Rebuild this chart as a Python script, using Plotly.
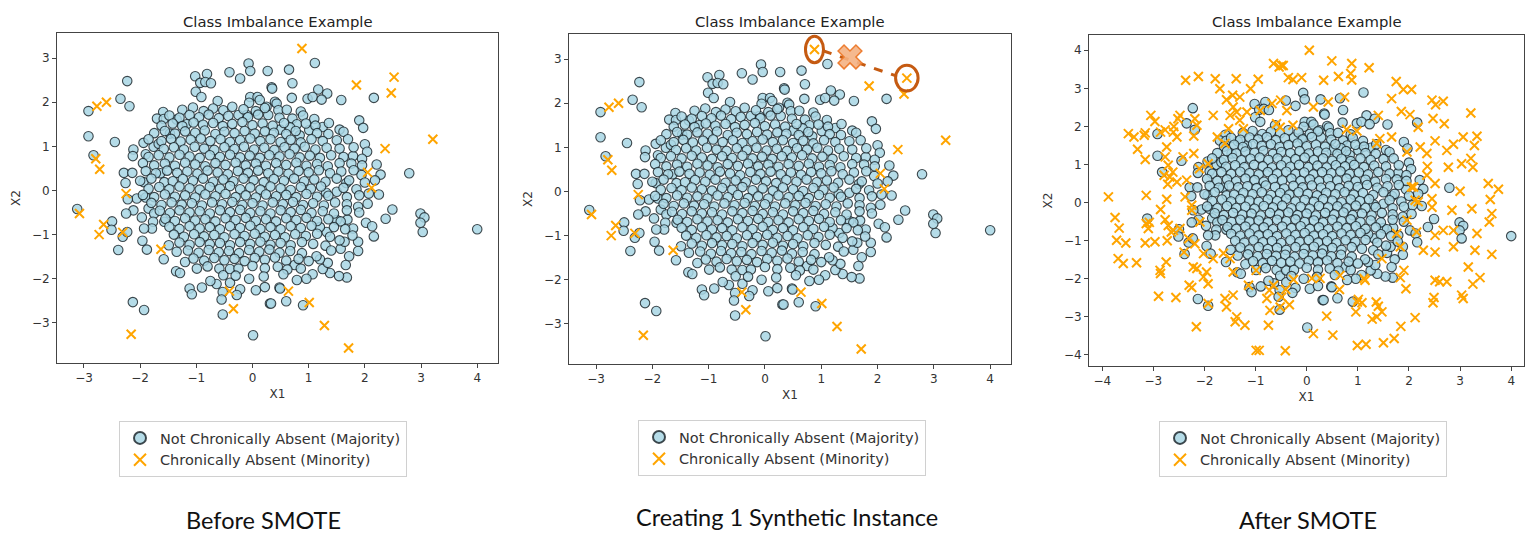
import plotly.graph_objects as go

# ---------------- data ----------------
majority_xy = [
    (-2.23,2.48),(-2.92,1.80),(-2.35,2.08),(-2.19,1.91),(-2.92,1.23),(-2.83,0.80),(-2.45,1.10),(-2.12,0.93),
    (-2.13,0.78),(-1.94,1.08),(-1.90,0.82),(-2.29,0.40),(-2.14,0.40),(-2.26,0.17),(-1.94,0.19),(-1.64,0.39),
    (-1.57,0.19),(-1.76,0.99),(-1.67,1.06),(-1.59,1.78),(-1.70,1.63),(-1.58,1.62),(-1.35,1.61),(-1.17,1.50),
    (-1.47,1.29),(-1.02,2.59),(-0.81,2.64),(-0.93,2.44),(-0.84,2.46),(-0.74,2.43),(-1.01,2.24),(-0.91,2.12),
    (-0.62,2.03),(-0.41,2.68),(-0.22,2.54),(-0.07,2.88),(-0.04,2.71),(0.27,2.71),(0.34,2.34),(-0.04,2.12),
    (0.09,2.12),(0.13,2.05),(-0.06,1.99),(0.25,1.90),(0.40,2.01),(0.28,1.71),(-0.10,1.71),(-0.25,1.71),
    (0.65,2.74),(1.11,2.89),(0.71,2.43),(0.35,2.31),(1.17,2.29),(1.33,2.20),(0.98,2.08),(1.07,2.12),
    (1.23,2.06),(0.70,2.10),(1.58,2.05),(2.16,2.10),(0.43,1.97),(0.46,1.82),(0.71,1.63),(0.79,1.50),
    (1.25,1.44),(1.55,1.38),(1.90,1.59),(1.97,1.42),(2.00,1.05),(2.04,0.88),(1.50,1.14),(1.55,0.95),
    (1.79,0.78),(1.76,0.61),(2.21,0.59),(2.28,0.36),(2.79,0.39),(1.94,0.35),(2.18,0.23),(2.25,-0.09),
    (2.07,-0.07),(1.67,0.17),(1.50,-0.03),(1.31,-0.05),(1.01,1.37),(0.84,1.25),(0.67,1.43),(0.49,1.38),
    (-3.12,-0.42),(-2.50,-0.70),(-2.51,-0.89),(-2.31,-1.05),(-2.23,-0.94),(-2.39,-1.35),(-2.12,-0.45),(-2.25,-0.52),
    (-1.97,-0.61),(-1.85,-0.41),(-1.75,-0.52),(-1.77,-0.71),(-1.79,-0.86),(-1.93,-0.86),(-2.06,-0.18),(-2.22,-0.20),
    (-1.90,-0.16),(-1.96,-1.14),(-1.88,-1.34),(-1.58,-1.56),(-1.49,-1.24),(-1.57,-0.71),(-1.35,-1.39),(-1.36,-1.83),
    (-1.29,-1.87),(-1.20,-1.62),(-0.99,-1.77),(-1.12,-2.22),(-1.08,-2.35),(-0.90,-2.20),(-0.64,-2.12),(-0.59,-1.77),
    (-0.52,-1.92),(-0.40,-1.78),(-0.53,-2.30),(-0.55,-2.47),(-0.53,-2.81),(-0.40,-2.09),(-0.22,-2.24),(-0.28,-2.37),
    (-0.06,-2.00),(0.06,-2.26),(0.01,-3.28),(0.22,-2.19),(0.31,-2.56),(0.48,-2.20),(-2.13,-2.53),(-1.93,-2.71),
    (1.88,-0.37),(2.37,-0.64),(2.49,-0.43),(2.99,-0.52),(3.06,-0.61),(2.99,-0.73),(3.03,-0.94),(4.00,-0.88),
    (2.02,-0.73),(2.13,-0.81),(2.16,-1.04),(1.88,-1.16),(1.88,-1.37),(1.72,-1.49),(1.66,-1.69),(1.68,-1.97),
    (1.54,-1.94),(1.38,-1.87),(1.25,-1.78),(1.34,-1.64),(1.20,-1.56),(1.14,-1.49),(1.07,-1.90),(0.96,-2.00),
    (0.79,-2.03),(0.75,-1.69),(0.86,-1.77),(0.49,-2.22),(0.60,-2.51),(0.90,-2.60),(0.33,-2.56),(1.57,-1.32),
    (1.64,-1.16),(1.55,-1.13),(1.79,-0.86),(1.69,-0.66),(1.50,-0.67),(1.32,-0.94),(1.20,-0.83),
    (-1.25,1.83),(-1.06,1.88),(-0.87,1.80),(-0.70,1.86),(-0.52,1.82),(-0.36,1.90),(-0.16,1.84),(0.06,1.80),
    (0.22,1.87),(0.61,1.83),(0.86,1.79),
    (-1.48,1.70),(-1.30,1.65),(-1.12,1.71),(-0.95,1.66),(-0.78,1.72),(-0.60,1.64),(-0.43,1.69),(-0.08,1.66),
    (0.10,1.72),(0.48,1.65),(0.90,1.70),(1.10,1.62),
    (-1.62,1.47),(-1.42,1.52),(-1.25,1.46),(-1.05,1.54),(-0.88,1.49),(-0.70,1.53),(-0.53,1.46),(-0.36,1.51),
    (-0.18,1.55),(0.00,1.48),(0.18,1.52),(0.36,1.47),(0.56,1.53),(0.95,1.52),(1.12,1.47),(1.36,1.53),
    (-1.75,1.30),(-1.56,1.35),(-1.38,1.29),(-1.20,1.34),(-1.02,1.31),(-0.85,1.36),(-0.66,1.28),(-0.50,1.33),
    (-0.32,1.30),(-0.14,1.35),(0.04,1.29),(0.22,1.34),(0.38,1.31),(0.60,1.28),(0.77,1.35),(1.15,1.30),
    (1.35,1.28),(1.62,1.33),
    (-1.85,1.16),(-1.62,1.12),(-1.45,1.17),(-1.28,1.11),(-1.10,1.15),(-0.92,1.18),(-0.75,1.12),(-0.57,1.16),
    (-0.40,1.10),(-0.22,1.14),(-0.04,1.18),(0.14,1.12),(0.32,1.16),(0.50,1.10),(0.68,1.15),(0.86,1.09),
    (1.05,1.16),(1.25,1.12),(1.70,1.16),
    (-1.58,0.94),(-1.40,0.98),(-1.22,0.93),(-1.03,0.99),(-0.86,0.95),(-0.68,0.92),(-0.50,0.98),(-0.32,0.94),
    (-0.15,0.99),(0.03,0.93),(0.21,0.97),(0.39,0.92),(0.57,0.98),(0.75,0.95),(0.93,0.99),(1.12,0.93),
    (1.32,0.97),(1.80,0.98),
    (-1.85,0.76),(-1.67,0.80),(-1.48,0.75),(-1.30,0.81),(-1.12,0.77),(-0.94,0.74),(-0.76,0.80),(-0.58,0.76),
    (-0.40,0.81),(-0.22,0.75),(-0.05,0.79),(0.13,0.74),(0.30,0.80),(0.48,0.77),(0.66,0.82),(0.84,0.75),
    (1.02,0.79),(1.20,0.74),(1.40,0.80),(1.62,0.76),(1.95,0.72),
    (-1.95,0.62),(-1.75,0.57),(-1.56,0.61),(-1.38,0.56),(-1.20,0.63),(-1.02,0.59),(-0.84,0.55),(-0.66,0.62),
    (-0.48,0.58),(-0.30,0.63),(-0.12,0.57),(0.06,0.61),(0.24,0.56),(0.42,0.62),(0.60,0.58),(0.78,0.63),
    (0.96,0.56),(1.15,0.60),(1.34,0.55),(1.55,0.62),(1.95,0.57),
    (-1.90,0.44),(-1.72,0.39),(-1.52,0.45),(-1.34,0.40),(-1.16,0.43),(-0.98,0.38),(-0.80,0.45),(-0.62,0.41),
    (-0.44,0.37),(-0.26,0.44),(-0.08,0.40),(0.10,0.45),(0.28,0.39),(0.46,0.43),(0.64,0.38),(0.82,0.44),
    (1.00,0.41),(1.18,0.46),(1.38,0.39),(1.58,0.43),(1.80,0.46),
    (-2.00,0.22),(-1.80,0.27),(-1.42,0.21),(-1.24,0.26),(-1.06,0.22),(-0.88,0.27),(-0.70,0.20),(-0.52,0.25),
    (-0.34,0.21),(-0.16,0.27),(0.02,0.23),(0.20,0.19),(0.38,0.26),(0.56,0.22),(0.74,0.27),(0.92,0.21),
    (1.10,0.25),(1.30,0.20),(1.50,0.27),(1.72,0.23),(2.00,0.18),
    (-1.85,0.04),(-1.66,0.08),(-1.48,0.03),(-1.30,0.09),(-1.12,0.05),(-0.94,0.02),(-0.76,0.08),(-0.58,0.04),
    (-0.40,0.10),(-0.22,0.03),(-0.04,0.07),(0.14,0.02),(0.32,0.09),(0.50,0.05),(0.68,0.01),(0.86,0.08),
    (1.04,0.04),(1.22,0.09),(1.62,0.06),(1.85,0.03),
    (-1.95,-0.10),(-1.75,-0.15),(-1.56,-0.09),(-1.38,-0.14),(-1.20,-0.11),(-1.02,-0.16),(-0.84,-0.09),(-0.66,-0.13),
    (-0.48,-0.08),(-0.30,-0.15),(-0.12,-0.11),(0.06,-0.16),(0.24,-0.09),(0.42,-0.13),(0.60,-0.10),(0.78,-0.15),
    (0.96,-0.08),(1.15,-0.14),(1.35,-0.12),(1.68,-0.15),(1.90,-0.11),
    (-1.80,-0.28),(-1.62,-0.33),(-1.44,-0.27),(-1.26,-0.32),(-1.08,-0.29),(-0.90,-0.34),(-0.72,-0.27),(-0.54,-0.31),
    (-0.36,-0.26),(-0.18,-0.33),(0.00,-0.29),(0.18,-0.34),(0.36,-0.27),(0.54,-0.31),(0.72,-0.26),(0.90,-0.33),
    (1.08,-0.29),(1.27,-0.34),(1.47,-0.27),(1.68,-0.31),(2.05,-0.30),
    (-1.65,-0.46),(-1.47,-0.51),(-1.30,-0.45),(-1.12,-0.50),(-0.94,-0.47),(-0.76,-0.52),(-0.58,-0.45),(-0.40,-0.49),
    (-0.22,-0.44),(-0.04,-0.51),(0.14,-0.47),(0.32,-0.52),(0.50,-0.45),(0.68,-0.49),(0.86,-0.44),(1.05,-0.51),
    (1.25,-0.47),(1.45,-0.52),(1.68,-0.45),(1.90,-0.50),
    (-1.55,-0.64),(-1.38,-0.69),(-1.20,-0.63),(-1.02,-0.68),(-0.84,-0.65),(-0.66,-0.70),(-0.48,-0.63),(-0.30,-0.67),
    (-0.12,-0.62),(0.06,-0.69),(0.24,-0.65),(0.42,-0.70),(0.60,-0.63),(0.78,-0.67),(0.96,-0.62),(1.15,-0.69),
    (1.35,-0.65),(1.57,-0.70),
    (-1.48,-0.82),(-1.30,-0.87),(-1.12,-0.81),(-0.94,-0.86),(-0.76,-0.83),(-0.58,-0.88),(-0.40,-0.81),(-0.22,-0.85),
    (-0.04,-0.80),(0.14,-0.87),(0.32,-0.83),(0.50,-0.88),(0.68,-0.81),(0.86,-0.85),(1.05,-0.80),(1.45,-0.83),
    (1.65,-0.88),
    (-1.40,-1.00),(-1.22,-1.05),(-1.04,-0.99),(-0.86,-1.04),(-0.68,-1.01),(-0.50,-1.06),(-0.32,-0.99),(-0.14,-1.03),
    (0.04,-0.98),(0.22,-1.05),(0.40,-1.01),(0.58,-1.06),(0.76,-0.99),(0.95,-1.03),(1.15,-0.98),(1.38,-1.05),
    (1.78,-1.02),
    (-1.30,-1.18),(-1.12,-1.23),(-0.94,-1.17),(-0.76,-1.22),(-0.58,-1.19),(-0.40,-1.24),(-0.22,-1.17),(-0.04,-1.21),
    (0.14,-1.16),(0.32,-1.23),(0.50,-1.19),(0.68,-1.24),(0.88,-1.17),(1.08,-1.21),(1.30,-1.25),
    (-1.15,-1.36),(-0.96,-1.41),(-0.78,-1.35),(-0.60,-1.40),(-0.42,-1.37),(-0.24,-1.42),(-0.06,-1.35),(0.12,-1.39),
    (0.30,-1.34),(0.48,-1.41),(0.67,-1.37),(0.88,-1.42),(1.40,-1.36),
    (-1.05,-1.54),(-0.86,-1.59),(-0.68,-1.53),(-0.50,-1.58),(-0.32,-1.55),(-0.14,-1.60),(0.04,-1.53),(0.22,-1.57),
    (0.40,-1.52),(0.60,-1.59),(0.82,-1.55),(1.00,-1.60),
    (-0.80,-1.72),(-0.25,-1.77),(0.00,-1.71),(0.22,-1.76),(0.45,-1.73),(0.62,-1.79),
    (-0.30,-1.93),(0.20,-1.95),(0.55,-1.90),(-0.75,-2.05),
]

minority_xy = [
    (-2.77,1.91),(-2.60,2.00),(-2.79,0.72),(-2.72,0.48),(-2.25,-0.07),(-3.08,-0.52),(-2.65,-0.77),(-2.73,-1.00),
    (-2.31,-0.95),(-1.63,-1.33),(-0.41,-2.28),(-0.34,-2.68),(-2.16,-3.26),(0.64,-2.28),(1.01,-2.54),(1.28,-3.06),
    (1.71,-3.57),(0.88,3.22),(1.85,2.39),(2.52,2.57),(2.47,2.21),(3.21,1.16),(2.36,0.95),(2.05,0.41),(2.12,0.06),
]

synthetic_xy = [
    (-3.88,0.15),(-3.14,0.19),(-2.74,0.09),(-3.49,1.81),(-3.38,1.72),(-3.18,1.77),(-3.16,1.83),(-3.31,1.40),
    (-3.16,1.13),(-3.05,2.29),(-2.97,2.13),(-2.86,1.85),(-2.74,1.46),(-2.77,1.20),(-2.71,0.98),(-2.62,0.80),
    (-2.68,0.67),(-2.54,0.54),(-2.61,1.85),(-2.52,2.20),(-2.48,2.29),(-2.54,1.72),(-2.42,1.20),(-2.37,3.21),
    (-2.12,3.31),(-2.19,2.20),(-2.15,2.03),(-2.21,1.75),(-2.21,1.29),(-2.35,0.59),(-2.10,0.89),(-1.93,1.02),
    (-1.79,3.25),(-1.70,2.99),(-1.83,2.29),(-1.75,1.72),(-1.57,2.70),(-1.38,3.25),(-1.45,2.82),(-1.31,2.77),
    (-1.44,2.51),(-1.50,2.29),(-1.37,2.38),(-1.31,2.16),(-1.53,1.94),(-1.24,1.94),(-1.10,2.99),(-0.95,3.24),
    (-1.17,2.38),(-0.91,2.42),(-0.65,3.65),(-0.54,3.56),(-0.46,3.60),(-0.36,3.28),(-0.68,2.60),(-0.51,2.69),
    (-0.39,2.42),(-0.59,2.07),(-0.52,1.98),(-1.60,1.55),(-2.38,0.15),
    (0.05,4.00),(0.49,3.72),(0.88,3.65),(0.86,3.39),(1.22,3.54),(0.62,3.31),(0.33,3.21),(-0.10,3.28),
    (-0.27,3.23),(-0.49,3.60),(1.75,3.18),(1.89,2.97),(2.05,2.97),(1.66,2.73),(2.45,2.69),(2.67,2.66),
    (3.21,2.35),(2.02,2.31),(2.69,2.07),(2.18,1.98),(1.40,2.29),(0.74,2.77),(0.42,2.64),(0.13,2.51),
    (-0.27,2.03),(3.06,1.72),(3.33,1.74),(3.28,1.50),(2.87,1.53),(2.51,1.62),(2.74,1.37),(2.35,1.29),
    (2.22,1.46),(3.03,1.02),(3.25,0.93),(2.77,0.93),(2.35,0.72),(2.51,0.50),(3.55,0.50),(3.75,0.35),
    (3.59,0.08),(3.00,0.30),(2.45,0.10),(2.09,0.41),(1.43,1.68),(1.37,1.55),(1.66,1.72),(0.78,1.92),
    (0.98,1.88),(1.96,1.33),
    (-3.75,-0.39),(-3.67,-0.67),(-3.72,-0.99),(-3.54,-1.06),(-3.69,-1.47),(-3.59,-1.60),(-3.33,-1.58),(-3.16,-1.06),
    (-2.97,-1.03),(-3.14,-0.55),(-3.10,-0.68),(-2.86,-0.18),(-2.77,-0.45),(-2.71,-0.60),(-2.61,-0.73),(-2.75,-1.56),
    (-2.87,-1.78),(-2.86,-1.86),(-2.90,-2.46),(-2.56,-2.49),(-2.48,-0.68),(-2.40,-1.30),(-2.25,-0.20),(-2.09,-0.51),
    (-2.19,-1.08),(-2.02,-1.34),(-2.22,-1.69),(-2.15,-1.73),(-1.96,-1.82),(-2.02,-1.95),(-2.30,-2.17),(-2.25,-2.23),
    (-1.93,-2.13),(-1.83,-1.47),(-1.93,-2.65),(-1.60,-2.52),(-1.57,-2.74),(-1.44,-2.43),(-1.37,-3.00),(-1.40,-3.13),
    (-1.21,-3.22),(-1.50,-1.47),(-1.44,-1.82),(-0.99,-1.78),(-1.14,-2.17),(-0.99,-3.88),(-0.93,-3.88),(-0.42,-3.89),
    (-0.73,-2.30),(-0.78,-2.52),(-0.72,-2.83),(-0.75,-3.22),(-0.52,-2.74),(-0.65,-2.17),
    (0.13,-3.44),(0.51,-3.48),(0.99,-3.75),(1.16,-3.72),(1.50,-3.68),(0.39,-2.98),(1.84,-3.25),(2.12,-3.02),
    (0.96,-2.87),(1.08,-2.63),(1.36,-2.61),(1.40,-2.72),(1.47,-2.87),(1.37,-3.00),(1.83,-1.97),(1.94,-2.26),
    (1.90,-1.78),(1.14,-2.04),(0.65,-1.91),(0.26,-1.99),(-0.26,-2.02),(-0.49,-2.48),(2.51,-2.04),(2.60,-2.08),
    (2.74,-2.08),(2.49,-2.49),(2.47,-2.63),(3.03,-2.43),(3.06,-2.52),(3.25,-2.14),(3.39,-1.97),(3.16,-1.69),
    (2.87,-1.16),(2.51,-1.30),(3.29,-1.25),(3.62,-1.36),(3.57,-0.51),(3.62,-0.29),(3.23,-0.16),(3.33,-0.81),
    (2.87,-0.73),(2.67,-0.73),(2.51,-0.86),(2.28,-1.25),(2.15,-0.77),(1.96,-0.46),(1.83,-1.16),(1.47,-1.47),
    (0.10,-1.99),(2.84,-0.20),(2.45,-0.12),(2.18,0.02),(0.99,-2.61),(1.12,-1.99),(1.76,-0.81),
]

panel_titles = ["Class Imbalance Example"] * 3
captions = ["Before SMOTE", "Creating 1 Synthetic Instance", "After SMOTE"]
legend_names = ["Not Chronically Absent (Majority)", "Chronically Absent (Minority)"]

# synthetic-instance illustration on panel 2 (annotation geometry, data units)
highlight_pairs = [(0.88, 3.22), (2.52, 2.57)]
new_instance = (1.51, 3.05)

# ---------------- figure ----------------
maj_x = [p[0] for p in majority_xy]
maj_y = [p[1] for p in majority_xy]
min_x = [p[0] for p in minority_xy]
min_y = [p[1] for p in minority_xy]
after_x = min_x + [p[0] for p in synthetic_xy]
after_y = min_y + [p[1] for p in synthetic_xy]

W, H = 1528, 533
def px_x(v): return v / W
def px_y(v): return 1 - v / H

# plot areas in pixels: (left, right, top, bottom)
areas = [(57, 498, 33, 363), (569, 1011, 34, 364), (1089, 1524, 35, 366)]
xranges = [[-3.48, 4.37], [-3.48, 4.37], [-4.26, 4.25]]
yranges = [[-3.91, 3.57], [-3.91, 3.57], [-4.29, 4.40]]
legend_pos = [(119, 421), (638, 420), (1159, 421)]
caption_pos = [(263, 520), (787, 517), (1308, 520)]

FONT = "DejaVu Sans"
maj_marker = dict(symbol="circle", size=9.5, color="rgba(168,214,228,0.85)",
                  line=dict(color="rgba(20,30,35,0.8)", width=1.1))
min_marker = dict(symbol="x-thin", size=9, color="#FFA500",
                  line=dict(color="#FFA500", width=2))

fig = go.Figure()
datasets = [(min_x, min_y), (min_x, min_y), (after_x, after_y)]
for i in range(3):
    sfx = "" if i == 0 else str(i + 1)
    lg = "legend" + sfx
    fig.add_trace(go.Scatter(x=maj_x, y=maj_y, mode="markers", name=legend_names[0],
                             marker=maj_marker, xaxis="x" + sfx, yaxis="y" + sfx, legend=lg))
    fig.add_trace(go.Scatter(x=datasets[i][0], y=datasets[i][1], mode="markers", name=legend_names[1],
                             marker=min_marker, xaxis="x" + sfx, yaxis="y" + sfx, legend=lg))

# big synthetic "X" on panel 2
fig.add_trace(go.Scatter(x=[new_instance[0]], y=[new_instance[1]], mode="markers", showlegend=False,
                         marker=dict(symbol="x", size=21, color="rgba(244,177,131,0.9)",
                                     line=dict(color="#ED7D31", width=1.5)),
                         xaxis="x2", yaxis="y2", hoverinfo="skip"))

layout = dict(width=W, height=H, margin=dict(l=0, r=0, t=0, b=0),
              paper_bgcolor="white", plot_bgcolor="white",
              font=dict(family=FONT, size=12, color="#333333"))

annotations = []
shapes = []
for i in range(3):
    l, r, t, b = areas[i]
    sfx = "" if i == 0 else str(i + 1)
    axis_common = dict(showline=True, linecolor="#444444", linewidth=1, mirror=True,
                       ticks="outside", ticklen=4, tickwidth=1, tickcolor="#444444",
                       showgrid=False, zeroline=False, tickfont=dict(family=FONT, size=12, color="#333333"),
                       dtick=1, fixedrange=True)
    layout["xaxis" + sfx] = dict(axis_common, domain=[px_x(l), px_x(r)], range=xranges[i],
                                 anchor="y" + sfx,
                                 title=dict(text="X1", font=dict(family=FONT, size=12, color="#333333"), standoff=5))
    layout["yaxis" + sfx] = dict(axis_common, domain=[px_y(b), px_y(t)], range=yranges[i],
                                 anchor="x" + sfx,
                                 title=dict(text="X2", font=dict(family=FONT, size=12, color="#333333"), standoff=8))
    lx, ly = legend_pos[i]
    layout["legend" + sfx] = dict(x=px_x(lx), y=px_y(ly), xanchor="left", yanchor="top",
                                  bgcolor="white", bordercolor="#D0D0D0", borderwidth=1,
                                  font=dict(family=FONT, size=14.5, color="#333333"),
                                  itemsizing="constant", tracegroupgap=0)
    annotations.append(dict(text=panel_titles[i], x=(px_x(l) + px_x(r)) / 2, y=px_y(21),
                            xref="paper", yref="paper", showarrow=False, xanchor="center", yanchor="middle",
                            font=dict(family=FONT, size=14.8, color="#222222")))
    cx, cy = caption_pos[i]
    annotations.append(dict(text=captions[i], x=px_x(cx), y=px_y(cy), xref="paper", yref="paper",
                            showarrow=False, xanchor="center", yanchor="middle",
                            font=dict(family="Lato", size=23.5, color="#111111")))

# ellipses + dashed connector on panel 2
circ_col = "#C55A11"
(ax1, ay1), (ax2, ay2) = highlight_pairs
shapes.append(dict(type="circle", xref="x2", yref="y2", x0=ax1 - 0.16, x1=ax1 + 0.16,
                   y0=ay1 - 0.30, y1=ay1 + 0.30, line=dict(color=circ_col, width=3)))
shapes.append(dict(type="circle", xref="x2", yref="y2", x0=ax2 - 0.20, x1=ax2 + 0.20,
                   y0=ay2 - 0.29, y1=ay2 + 0.29, line=dict(color=circ_col, width=3)))
shapes.append(dict(type="line", xref="x2", yref="y2", x0=ax1 + 0.15, y0=ay1 - 0.03,
                   x1=ax2 - 0.19, y1=ay2 + 0.05, line=dict(color=circ_col, width=3, dash="dash"),
                   layer="below"))

layout["annotations"] = annotations
layout["shapes"] = shapes
fig.update_layout(**layout)
fig.write_html("out.html")
